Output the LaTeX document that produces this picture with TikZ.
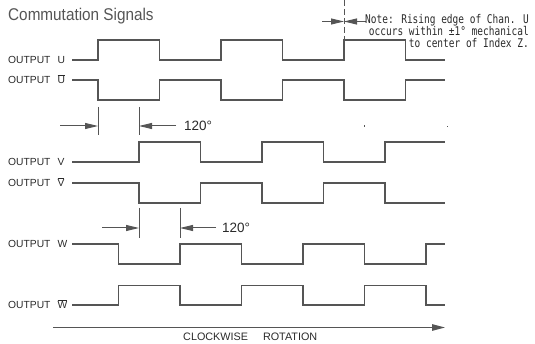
\documentclass[tikz,border=0pt]{standalone}
\usepackage{fontspec}
\setmainfont{Liberation Sans}
\newfontfamily\notefont{DejaVu Sans Mono}
\usetikzlibrary{arrows.meta}
\definecolor{ln}{HTML}{555555}
\definecolor{tx}{HTML}{2A2A2A}
\newcommand\olet[1]{\ensuremath{\overline{\mbox{#1}}}}
\begin{document}
\begin{tikzpicture}[x=1pt,y=-1pt,
  wave/.style={draw=ln, line width=1.4pt, line join=miter},
  tick/.style={draw=ln, line width=1pt},
  dimarrow/.style={draw=ln, line width=1pt, -{Triangle[length=13pt,width=6pt]}},
  lbl/.style={anchor=base west, inner sep=0pt, text=tx, font=\fontsize{10.3}{11}\selectfont},
  deg/.style={anchor=west, inner sep=0pt, text=tx, font=\fontsize{13.5}{14}\selectfont},
  notetext/.style={anchor=base east, inner sep=0pt, text=tx, font=\notefont\fontsize{12}{13}\selectfont}]
\useasboundingbox (0,0) rectangle (535,344);

% title
\node[anchor=base west, inner sep=0pt, text=ln, font=\fontsize{17}{18}\selectfont] (title) at (8,21) {\scalebox{0.9}[1]{Commutation Signals}};

% labels
\node[lbl] (lU)  at (8,63.7)  {OUTPUT\hspace{7pt}U};
\node[lbl] (lUb) at (8,83.7)  {OUTPUT\hspace{7pt}\olet{U}};
\node[lbl] (lV)  at (8,165.7) {OUTPUT\hspace{7pt}V};
\node[lbl] (lVb) at (8,186.7) {OUTPUT\hspace{7pt}\olet{V}};
\node[lbl] (lW)  at (8,247.7) {OUTPUT\hspace{7pt}W};
\node[lbl] (lWb) at (8,308.7) {OUTPUT\hspace{7pt}\olet{W}};

% waveforms
\draw[wave] (72,60) -- (98,60) -- (98,40) -- (159.5,40) -- (159.5,60) -- (221,60) -- (221,40) -- (282.5,40) -- (282.5,60) -- (344,60) -- (344,40) -- (405.5,40) -- (405.5,60) -- (445,60);
\draw[wave] (72,80) -- (98,80) -- (98,100) -- (159.5,100) -- (159.5,80) -- (221,80) -- (221,100) -- (282.5,100) -- (282.5,80) -- (344,80) -- (344,100) -- (405.5,100) -- (405.5,80) -- (445,80);
\draw[wave] (72,162) -- (139,162) -- (139,142) -- (200.5,142) -- (200.5,162) -- (262,162) -- (262,142) -- (323.5,142) -- (323.5,162) -- (385,162) -- (385,142) -- (445,142);
\draw[wave] (72,183) -- (139,183) -- (139,203) -- (200.5,203) -- (200.5,183) -- (262,183) -- (262,203) -- (323.5,203) -- (323.5,183) -- (385,183) -- (385,203) -- (445,203);
\draw[wave] (72,244) -- (118.5,244) -- (118.5,264) -- (180,264) -- (180,244) -- (241.5,244) -- (241.5,264) -- (303,264) -- (303,244) -- (364.5,244) -- (364.5,264) -- (426,264) -- (426,244) -- (445,244);
\draw[wave] (72,305) -- (118.5,305) -- (118.5,285.5) -- (180,285.5) -- (180,305) -- (241.5,305) -- (241.5,285.5) -- (303,285.5) -- (303,305) -- (364.5,305) -- (364.5,285.5) -- (426,285.5) -- (426,305) -- (445,305);

% first 120 degree dimension
\coordinate (a1) at (98,107);  \coordinate (a2) at (98,135);
\coordinate (b1) at (139,107); \coordinate (b2) at (139,135);
\draw[tick] (a1) -- (a2);
\draw[tick] (b1) -- (b2);
\coordinate (a3) at (60,126);  \coordinate (a4) at (98,126);
\coordinate (b3) at (176,126); \coordinate (b4) at (139,126);
\draw[dimarrow] (a3) -- (a4);
\draw[dimarrow] (b3) -- (b4);
\node[deg] (d1) at (184,126) {120°};

% second 120 degree dimension
\coordinate (c1) at (139,208); \coordinate (c2) at (139,238);
\coordinate (e1) at (180,208); \coordinate (e2) at (180,238);
\draw[tick] (c1) -- (c2);
\draw[tick] (e1) -- (e2);
\coordinate (c3) at (102,228); \coordinate (c4) at (139,228);
\coordinate (e3) at (216,228); \coordinate (e4) at (180,228);
\draw[dimarrow] (c3) -- (c4);
\draw[dimarrow] (e3) -- (e4);
\node[deg] (d2) at (222,228) {120°};

% note
\coordinate (n1) at (344,0); \coordinate (n2) at (344,40);
\draw[draw=ln, line width=1pt, dash pattern=on 6pt off 3pt] (n1) -- (n2);
\coordinate (n3) at (322,21.5); \coordinate (n4) at (344,21.5);
\coordinate (n5) at (366,21.5);
\draw[dimarrow] (n3) -- (n4);
\draw[dimarrow] (n5) -- (n4);
\node[notetext] (note1) at (529,24) {\scalebox{0.79}[1]{Note: Rising edge of Chan. U}};
\node[notetext] (note2) at (529,35.7) {\scalebox{0.79}[1]{occurs within ±1° mechanical}};
\node[notetext] (note3) at (529,47.4) {\scalebox{0.79}[1]{to center of Index Z.}};

% specks
\fill[ln] (363.5,125) rectangle (365,127.5);
\fill[ln] (446.5,126.5) rectangle (448,127.5);

% rotation axis
\coordinate (r1) at (53,327.5); \coordinate (r2) at (445,327.5);
\draw[draw=ln, line width=1.2pt, -{Triangle[length=13pt,width=6.5pt]}] (r1) -- (r2);
\node[anchor=base west, inner sep=0pt, text=tx, font=\fontsize{10.8}{11}\selectfont] (rot) at (183,340.5) {CLOCKWISE\hspace{15pt}ROTATION};
\end{tikzpicture}
\end{document}
